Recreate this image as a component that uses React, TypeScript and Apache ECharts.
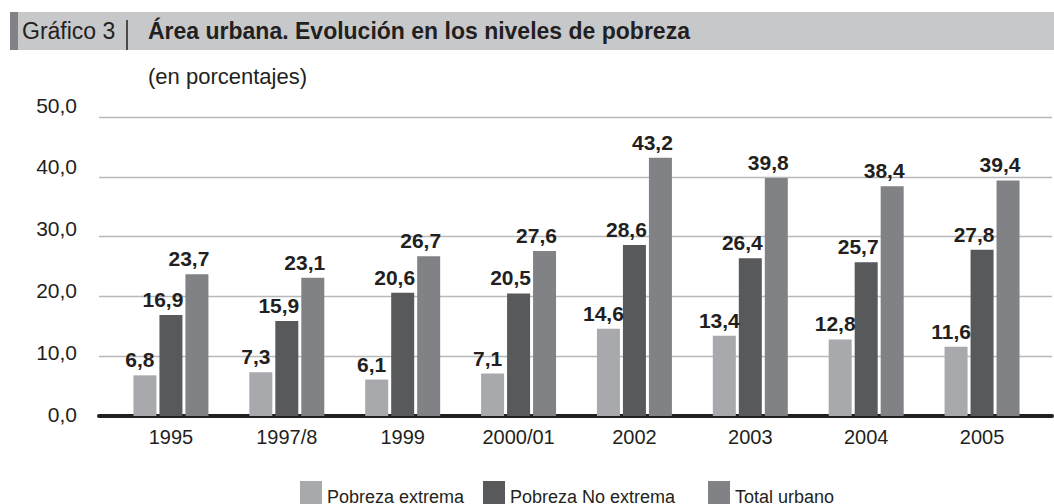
import React, { useEffect, useRef } from "react";
import * as echarts from "echarts";

const categories = ["1995", "1997/8", "1999", "2000/01", "2002", "2003", "2004", "2005"];
const pobrezaExtrema = [6.8, 7.3, 6.1, 7.1, 14.6, 13.4, 12.8, 11.6];
const pobrezaNoExtrema = [16.9, 15.9, 20.6, 20.5, 28.6, 26.4, 25.7, 27.8];
const totalUrbano = [23.7, 23.1, 26.7, 27.6, 43.2, 39.8, 38.4, 39.4];
const seriesNames = ["Pobreza extrema", "Pobreza No extrema", "Total urbano"];
const yMin = 0;
const yMax = 50;
const yInterval = 10;

const FONT = "'Liberation Sans', Arial, Helvetica, sans-serif";
const TEXT = "#231f20";
const COLORS = ["#a7a9ac", "#58595b", "#808285"];

const fmt = (v: number) => v.toFixed(1).replace(".", ",");

export default function App() {
  const ref = useRef<HTMLDivElement>(null);
  useEffect(() => {
    if (!ref.current) return;
    const chart = echarts.init(ref.current, undefined, { renderer: "svg" });
    const dataSets = [pobrezaExtrema, pobrezaNoExtrema, totalUrbano];
    const offsets = [-5, -8, -8];
    chart.setOption({
      animation: false,
      textStyle: { fontFamily: FONT },
      grid: [
        { left: 85, top: 105, bottom: 90, width: 10, containLabel: false },
        { left: 99, right: 2, top: 117, bottom: 88, containLabel: false },
        { left: 113, right: 14, top: 117, bottom: 88, containLabel: false },
      ],
      xAxis: [
        { gridIndex: 0, type: "value", show: false, min: 0, max: 1 },
        {
          gridIndex: 1,
          type: "value",
          min: 0,
          max: 1,
          offset: 2,
          axisLine: { show: true, lineStyle: { color: TEXT, width: 4 } },
          axisTick: { show: false },
          axisLabel: { show: false },
          splitLine: { show: false },
        },
        {
          gridIndex: 2,
          type: "category",
          data: categories,
          axisLine: { show: false },
          axisTick: { show: false },
          axisLabel: { fontSize: 20, color: TEXT, fontFamily: FONT, margin: 11 },
          splitLine: { show: false },
        },
      ],
      yAxis: [
        {
          gridIndex: 0,
          type: "value",
          min: yMin,
          max: yMax,
          interval: yInterval,
          axisLine: { show: false },
          axisTick: { show: false },
          splitLine: { show: false },
          axisLabel: { fontSize: 21, color: TEXT, fontFamily: FONT, margin: 8, formatter: (v: number) => fmt(v) },
        },
        {
          gridIndex: 1,
          type: "value",
          min: yMin,
          max: yMax,
          interval: yInterval,
          axisLine: { show: false },
          axisTick: { show: false },
          axisLabel: { show: false },
          splitLine: { show: true, lineStyle: { color: "#b8b9bb", width: 1.3 } },
        },
        { gridIndex: 2, type: "value", min: yMin, max: yMax, show: false },
      ],
      legend: seriesNames.map((n, i) => ({
        data: [n],
        left: [300, 483, 708][i],
        top: 481,
        padding: 0,
        itemWidth: 22,
        itemHeight: 32,
        icon: "rect",
        selectedMode: false,
        textStyle: { fontSize: 18, color: TEXT, fontFamily: FONT },
      })),
      series: seriesNames.map((n, i) => ({
        name: n,
        type: "bar",
        xAxisIndex: 2,
        yAxisIndex: 2,
        data: dataSets[i],
        barWidth: 23,
        barGap: "13%",
        itemStyle: { color: COLORS[i] },
        label: {
          show: true,
          position: "top",
          distance: 5,
          offset: [offsets[i], 0],
          fontSize: 21,
          fontWeight: "bold",
          color: TEXT,
          fontFamily: FONT,
          formatter: (p: any) => fmt(p.value),
        },
      })),
      graphic: [
        { type: "rect", shape: { x: 10, y: 12, width: 1044, height: 38 }, style: { fill: "#c7c8ca" } },
        { type: "rect", shape: { x: 10, y: 12, width: 8, height: 38 }, style: { fill: "#808285" } },
        {
          type: "text",
          x: 22,
          y: 31,
          style: { text: "Gráfico 3", font: `23px ${FONT}`, fill: TEXT, verticalAlign: "middle" },
        },
        { type: "line", shape: { x1: 127, y1: 20, x2: 127, y2: 50 }, style: { stroke: TEXT, lineWidth: 1.5 } },
        {
          type: "text",
          x: 148,
          y: 31,
          style: {
            text: "Área urbana. Evolución en los niveles de pobreza",
            font: `bold 23px ${FONT}`,
            fill: TEXT,
            verticalAlign: "middle",
          },
        },
        {
          type: "text",
          x: 148,
          y: 76,
          style: { text: "(en porcentajes)", font: `22px ${FONT}`, fill: TEXT, verticalAlign: "middle" },
        },
      ],
    });
    return () => chart.dispose();
  }, []);
  return (
    <div
      ref={ref}
      style={{ position: "fixed", left: 0, top: 0, width: 1054, height: 504, background: "#fff" }}
    />
  );
}
